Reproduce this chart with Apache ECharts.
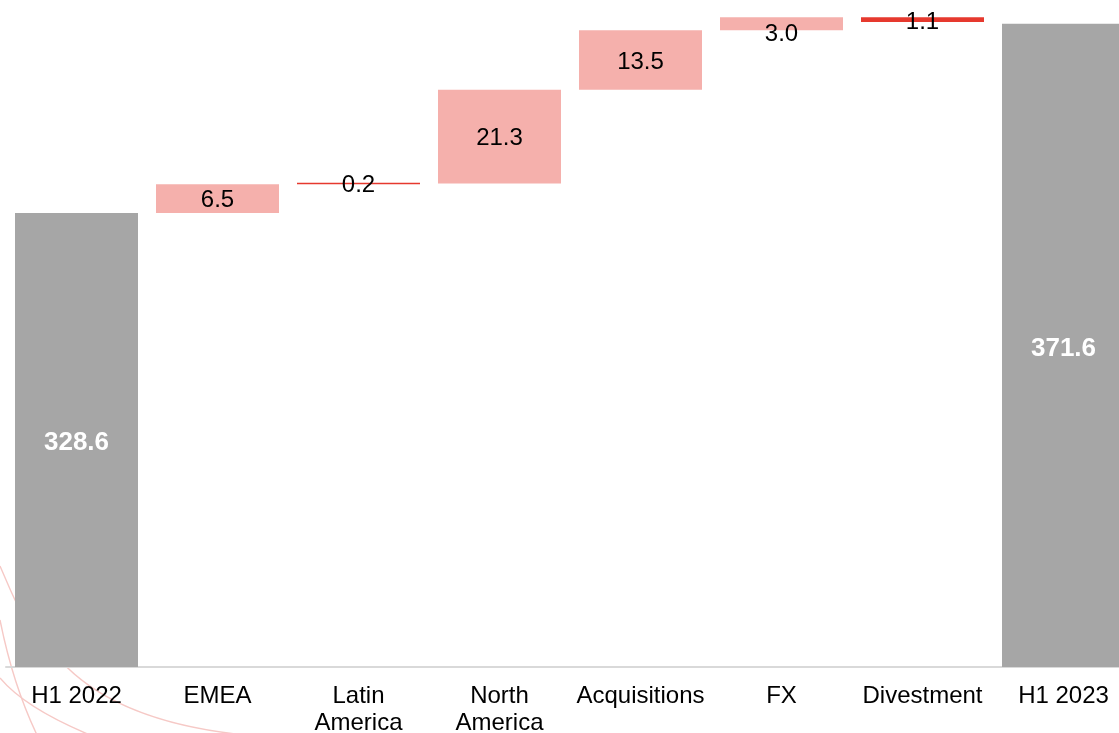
<!DOCTYPE html>
<html>
<head>
<meta charset="utf-8">
<style>
html,body{margin:0;padding:0;background:#fff;}
#chart{width:1119px;height:733px;}
</style>
<script src="https://cdn.jsdelivr.net/npm/echarts@6/dist/echarts.min.js"></script>
</head>
<body>
<div id="chart"></div>
<script>
const categories = ['H1 2022', 'EMEA', 'Latin\nAmerica', 'North\nAmerica', 'Acquisitions', 'FX', 'Divestment', 'H1 2023'];
const values = [328.6, 6.5, 0.2, 21.3, 13.5, 3.0, -1.1, 371.6];
const kinds = ['total', 'delta', 'delta', 'delta', 'delta', 'delta', 'delta', 'total'];

const colTotal = '#a6a6a6';
const colUp = '#f5b0ac';
const colRed = '#e6392e';

// build waterfall (base + visible)
let running = 0;
const base = [], vis = [];
values.forEach((v, i) => {
  if (kinds[i] === 'total') {
    base.push(0);
    vis.push(v);
    running = v;
  } else {
    const lo = v >= 0 ? running : running + v;
    base.push(lo);
    vis.push(Math.abs(v));
    running += v;
  }
});

function barColor(i) {
  if (kinds[i] === 'total') return colTotal;
  if (values[i] < 0 || Math.abs(values[i]) < 0.5) return colRed;
  return colUp;
}

const visData = vis.map((v, i) => {
  const isTotal = kinds[i] === 'total';
  const item = {
    value: v,
    itemStyle: { color: barColor(i) },
    label: isTotal
      ? { color: '#fff', fontWeight: 'bold', fontSize: 26, offset: [0, 3] }
      : { color: '#000', fontSize: 24, offset: [0, 2] }
  };
  if (categories[i] === 'FX') item.label.offset = [0, 11];
  if (categories[i] === 'Divestment') item.label.offset = [0, 3];
  return item;
});

const chart = echarts.init(document.getElementById('chart'), null, { renderer: 'canvas' });

// decorative background swooshes (bottom-left corner)
const swooshes = [
  [0, 566, 10, 590, 22, 615],
  [0, 620, 13, 685, 37, 735],
  [0, 678, 25, 708, 90, 735],
  [60, 660, 116, 722, 245, 735]
];

chart.setOption({
  animation: false,
  backgroundColor: '#fff',
  textStyle: { fontFamily: 'Liberation Sans, Arial, sans-serif' },
  graphic: swooshes.map(s => ({
    type: 'bezierCurve',
    z: -10,
    silent: true,
    shape: { x1: s[0], y1: s[1], cpx1: s[2], cpy1: s[3], x2: s[4], y2: s[5] },
    style: { fill: 'none', stroke: '#f6c9c6', lineWidth: 1.4 }
  })),
  grid: {
    left: 6, width: 1128, top: 0, bottom: 66,
    containLabel: false,
    outerBoundsMode: 'none'
  },
  xAxis: {
    type: 'category',
    data: categories,
    axisLine: { lineStyle: { color: '#d9d9d9', width: 2 } },
    axisTick: { show: false },
    axisLabel: {
      interval: 0,
      color: '#000',
      fontSize: 24,
      lineHeight: 27,
      margin: 16,
      fontFamily: 'Liberation Sans, Arial, sans-serif'
    }
  },
  yAxis: {
    type: 'value',
    min: 225.4,
    max: 377,
    show: false,
    splitLine: { show: false }
  },
  series: [
    {
      type: 'bar',
      stack: 'wf',
      barWidth: 123,
      itemStyle: { color: 'transparent' },
      emphasis: { disabled: true },
      data: base
    },
    {
      type: 'bar',
      stack: 'wf',
      barWidth: 123,
      barMinHeight: 1.6,
      label: {
        show: true,
        position: 'inside',
        formatter: p => Math.abs(values[p.dataIndex]).toFixed(1),
        fontFamily: 'Liberation Sans, Arial, sans-serif'
      },
      data: visData
    }
  ]
});
</script>
</body>
</html>
